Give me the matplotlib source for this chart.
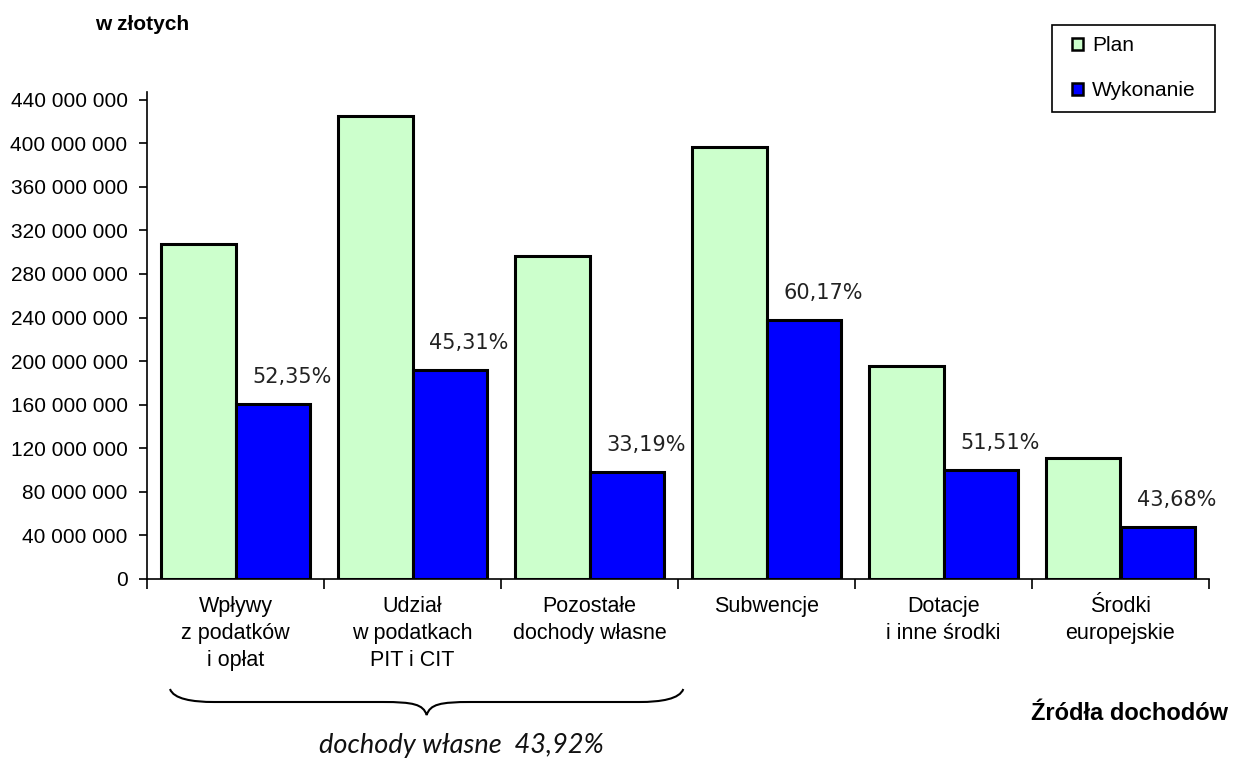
import numpy as np
import matplotlib.pyplot as plt
from matplotlib.path import Path
from matplotlib.patches import PathPatch, Rectangle
import matplotlib.transforms as mtransforms

categories = ['Wpływy\nz podatków\ni opłat', 'Udział\nw podatkach\nPIT i CIT',
              'Pozostałe\ndochody własne', 'Subwencje', 'Dotacje\ni inne środki',
              'Środki\neuropejskie']
plan = [307.7e6, 425.3e6, 296.7e6, 396.8e6, 195.7e6, 111.2e6]
wykonanie = [160.8e6, 192.0e6, 98.3e6, 237.9e6, 100.1e6, 47.8e6]
pct_labels = ['52,35%', '45,31%', '33,19%', '60,17%', '51,51%', '43,68%']
yticks = np.arange(0, 440e6 + 1, 40e6)

plt.rcParams['font.family'] = ['Liberation Sans', 'DejaVu Sans']

fig = plt.figure(figsize=(12.35, 7.61), dpi=100)
ax = fig.add_axes([147 / 1235, 182 / 761, (1209 - 147) / 1235, (579 - 92) / 761])

x = np.arange(len(categories))
w = 0.42
ax.bar(x - w / 2, plan, w, color='#ccffcc', edgecolor='black', linewidth=2.2, label='Plan')
ax.bar(x + w / 2, wykonanie, w, color='#0000ff', edgecolor='black', linewidth=2.2, label='Wykonanie')

for xi, v, t in zip(x, wykonanie, pct_labels):
    ax.annotate(t, (xi + w / 2, v), xytext=(14, 12), textcoords='offset points',
                ha='center', va='bottom', fontsize=15, family='DejaVu Sans', color='#222222')

ax.set_xlim(-0.5, len(categories) - 0.5)
ax.set_ylim(0, 447e6)
ax.set_yticks(yticks)
ax.set_yticklabels([f'{int(v):,}'.replace(',', ' ') for v in yticks], fontsize=15)
ax.set_xticks(np.arange(len(categories) + 1) - 0.5)
ax.set_xticklabels([])
ax.set_xticks(x, minor=True)
ax.set_xticklabels(categories, minor=True, fontsize=15.5, linespacing=1.4, va='top')
ax.tick_params(axis='x', which='minor', length=0, pad=12)
ax.tick_params(axis='x', which='major', length=7, width=1.2, direction='out')
ax.tick_params(axis='y', length=6, width=1.2, direction='out', pad=8)
for s in ['top', 'right']:
    ax.spines[s].set_visible(False)
for s in ['left', 'bottom']:
    ax.spines[s].set_linewidth(1.2)

leg = ax.legend(loc='upper left', bbox_to_anchor=(1072 / 1235, 1 - 36 / 761), bbox_transform=fig.transFigure,
                fontsize=15, frameon=False,
                handlelength=0.52, handleheight=0.52, handletextpad=0.44, labelspacing=1.25,
                borderpad=0, borderaxespad=0)
for h in leg.legend_handles:
    h.set_linewidth(1.8)
fig.add_artist(Rectangle((1052 / 1235, 1 - 112 / 761), 163 / 1235, 87 / 761,
                         transform=fig.transFigure, fill=False, lw=1.2, edgecolor='black'))

# brace under the first three categories
trans = mtransforms.blended_transform_factory(ax.transData, fig.transFigure)
x0, x1 = -0.37, 2.53
xm = (x0 + x1) / 2
d = 0.25
ytop, ymid, ybot = 1 - 689 / 761, 1 - 702 / 761, 1 - 715 / 761
verts = [(x0, ytop),
         (x0 + 0.02, ymid + 0.004), (x0 + d * 0.5, ymid), (x0 + d, ymid),
         (xm - d, ymid),
         (xm - d * 0.3, ymid), (xm - 0.02, ymid - 0.003), (xm, ybot),
         (xm + 0.02, ymid - 0.003), (xm + d * 0.3, ymid), (xm + d, ymid),
         (x1 - d, ymid),
         (x1 - d * 0.5, ymid), (x1 - 0.02, ymid + 0.004), (x1, ytop)]
codes = [Path.MOVETO] + [Path.CURVE4] * 3 + [Path.LINETO] + [Path.CURVE4] * 6 \
    + [Path.LINETO] + [Path.CURVE4] * 3
fig.add_artist(PathPatch(Path(verts, codes), transform=trans, fill=False, lw=1.5, color='black'))

fig.text(461 / 1235, 1 - 746 / 761, 'dochody własne  43,92%', ha='center', va='center',
         fontsize=19.5, style='italic', family='Lato', color='#111111')
fig.text(1228 / 1235, 1 - 713 / 761, 'Źródła dochodów', ha='right', va='center',
         fontsize=17, weight='bold')
fig.text(95 / 1235, 1 - 25 / 761, 'w złotych', ha='left', va='center',
         fontsize=15, weight='bold')

fig.savefig('out.png', dpi=100)
